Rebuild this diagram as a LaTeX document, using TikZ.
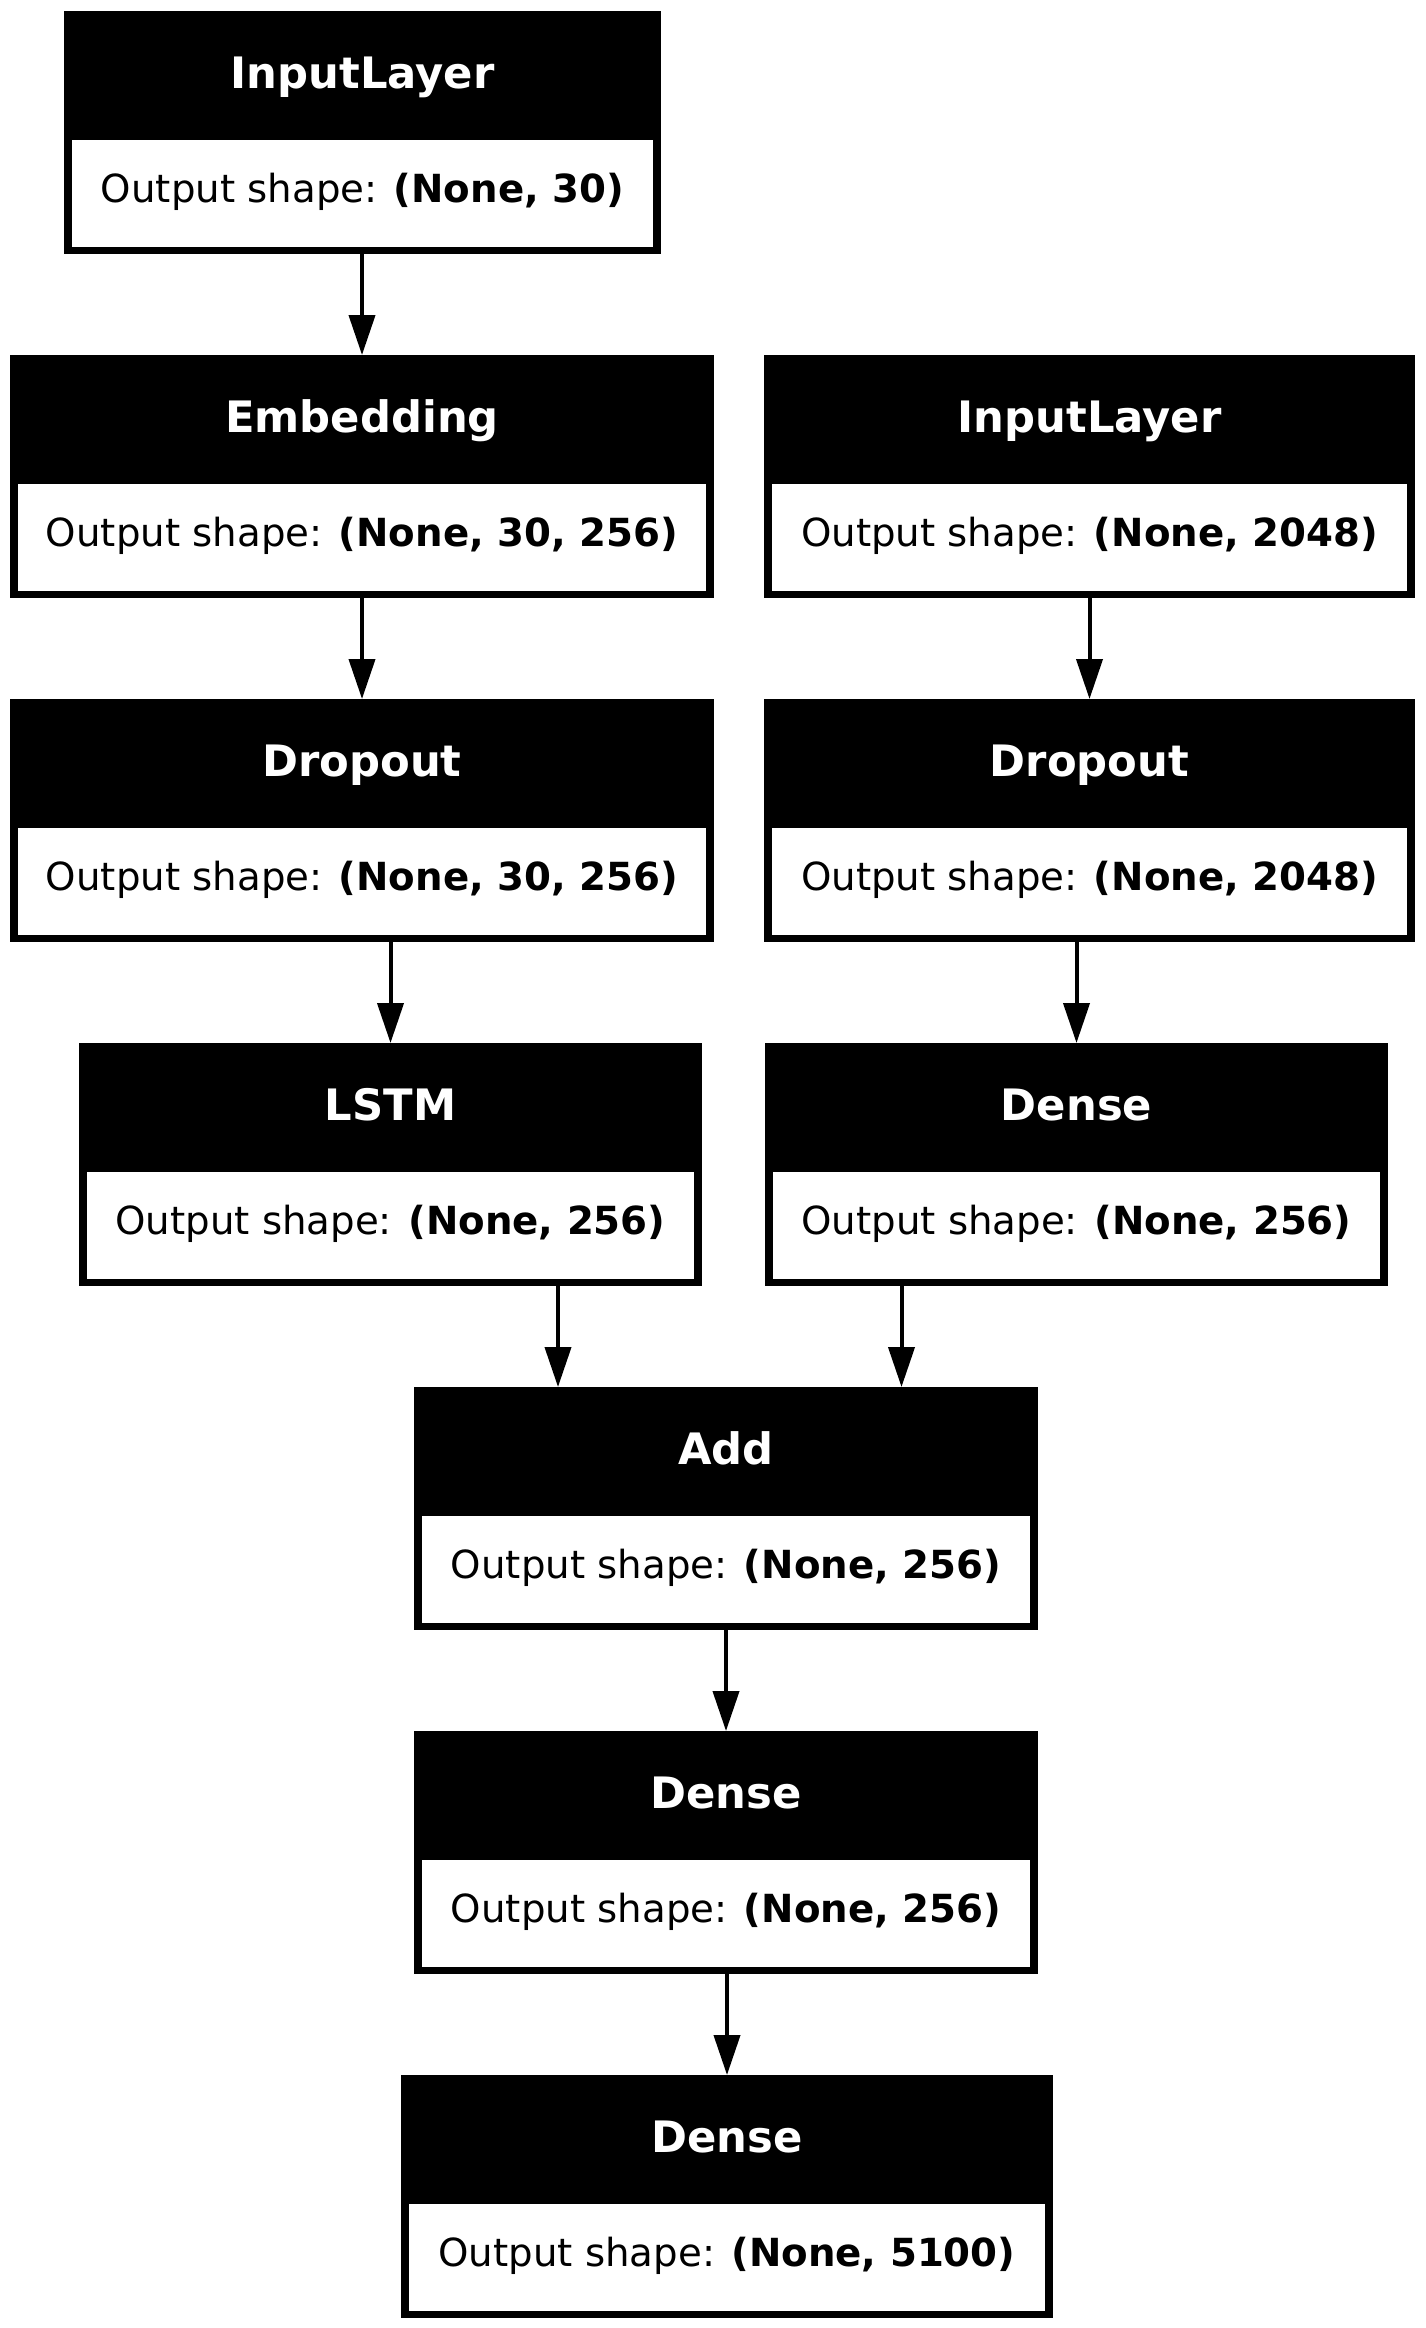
\documentclass[tikz,border=0pt]{standalone}
\usepackage{fontspec}
\setmainfont{DejaVu Sans}
\usetikzlibrary{arrows.meta,calc}
\tikzset{
  layer/.style={fill=black, inner sep=0pt, outer sep=0pt, minimum height=243pt, minimum width=#1, anchor=north west},
  layertitle/.style={text=white, inner sep=0pt, anchor=north, text height=77pt, text depth=52pt, font=\fontsize{43.3}{50}\selectfont\bfseries},
  layershape/.style={fill=white, inner sep=0pt, anchor=south, yshift=7pt, minimum width=#1, text height=63pt, text depth=44pt, font=\fontsize{38.7}{45}\selectfont},
  arr/.style={line width=4pt, -{Triangle[length=40pt,width=26pt]}},
}
\begin{document}
\begin{tikzpicture}[x=1pt,y=1pt]
  \useasboundingbox (0,0) rectangle (1426,-2328);
  % layers
  \node[layer=597pt] (in1) at (64,-11) {};
  \node[layer=704pt] (emb) at (10,-355) {};
  \node[layer=651pt] (in2) at (764,-355) {};
  \node[layer=704pt] (drop1) at (10,-699) {};
  \node[layer=651pt] (drop2) at (764,-699) {};
  \node[layer=623pt] (lstm) at (79,-1043) {};
  \node[layer=623pt] (dns1) at (765,-1043) {};
  \node[layer=624pt] (add) at (414,-1387) {};
  \node[layer=624pt] (dns2) at (414,-1731) {};
  \node[layer=652pt] (dns3) at (401,-2075) {};
  % titles
  \node[layertitle] at (in1.north) {InputLayer};
  \node[layertitle] at (emb.north) {Embedding};
  \node[layertitle] at (in2.north) {InputLayer};
  \node[layertitle] at (drop1.north) {Dropout};
  \node[layertitle] at (drop2.north) {Dropout};
  \node[layertitle] at (lstm.north) {LSTM};
  \node[layertitle] at (dns1.north) {Dense};
  \node[layertitle] at (add.north) {Add};
  \node[layertitle] at (dns2.north) {Dense};
  \node[layertitle] at (dns3.north) {Dense};
  % output shapes
  \node[layershape=581pt] at (in1.south) {Output shape: \textbf{(None, 30)}};
  \node[layershape=688pt] at (emb.south) {Output shape: \textbf{(None, 30, 256)}};
  \node[layershape=635pt] at (in2.south) {Output shape: \textbf{(None, 2048)}};
  \node[layershape=688pt] at (drop1.south) {Output shape: \textbf{(None, 30, 256)}};
  \node[layershape=635pt] at (drop2.south) {Output shape: \textbf{(None, 2048)}};
  \node[layershape=607pt] at (lstm.south) {Output shape: \textbf{(None, 256)}};
  \node[layershape=607pt] at (dns1.south) {Output shape: \textbf{(None, 256)}};
  \node[layershape=608pt] at (add.south) {Output shape: \textbf{(None, 256)}};
  \node[layershape=608pt] at (dns2.south) {Output shape: \textbf{(None, 256)}};
  \node[layershape=636pt] at (dns3.south) {Output shape: \textbf{(None, 5100)}};
  % edges
  \coordinate (m1) at ($(add.west)!.5!(lstm.east)$);
  \coordinate (m2) at ($(dns1.west)!.5!(add.east)$);
  \draw[arr] (emb.north |- in1.south) -- (emb.north);
  \draw[arr] (in2.south) -- (drop2.north);
  \draw[arr] (emb.south) -- (drop1.north);
  \draw[arr] (lstm.north |- drop1.south) -- (lstm.north);
  \draw[arr] (dns1.north |- drop2.south) -- (dns1.north);
  \draw[arr] (m1 |- lstm.south) -- (m1 |- add.north);
  \draw[arr] (m2 |- dns1.south) -- (m2 |- add.north);
  \draw[arr] (add.south) -- (dns2.north);
  \draw[arr] (dns3.north |- dns2.south) -- (dns3.north);
\end{tikzpicture}
\end{document}
